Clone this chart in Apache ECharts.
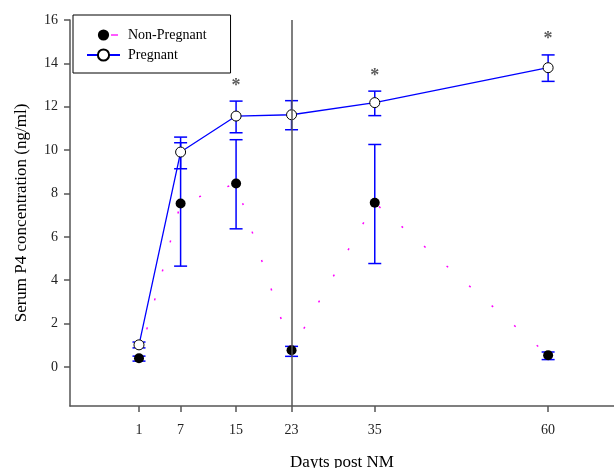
<!DOCTYPE html>
<html lang="en">

<head>
    <meta charset="UTF-8">
    <title>Serum P4</title>
    <script src="https://cdn.jsdelivr.net/npm/echarts@6.0.0/dist/echarts.min.js"></script>
    <style>
        body { margin: 0; background: #fff; }
    </style>
</head>

<body>
    <div id="container" style="width: 614px; height: 468px"></div>
    <script>
        // days post NM
        var days = [1, 7, 15, 23, 35, 60];
        // non-pregnant: mean, lower and upper error
        var npMean = [0.4, 7.54, 8.46, 0.77, 7.57, 0.54];
        var npLow = [0.27, 4.65, 6.37, 0.49, 4.77, 0.34];
        var npHigh = [0.5, 10.34, 10.48, 0.95, 10.26, 0.69];
        // pregnant
        var pMean = [1.02, 9.91, 11.57, 11.63, 12.19, 13.8];
        var pLow = [0.88, 9.14, 10.8, 10.94, 11.59, 13.17];
        var pHigh = [1.15, 10.6, 12.26, 12.28, 12.72, 14.39];
        // significance marks
        var starDays = [15, 35, 60];
        var starY = [12.95, 13.4, 15.1];
        var yTicks = [0, 2, 4, 6, 8, 10, 12, 14, 16];

        var font = 'Liberation Serif';

        var npPoints = [], pPoints = [], bars = [], stars = [];
        for (let i = 0; i < days.length; i++) {
            npPoints.push([days[i], npMean[i]]);
            pPoints.push([days[i], pMean[i]]);
            bars.push([days[i], npLow[i], npHigh[i]]);
            bars.push([days[i], pLow[i], pHigh[i]]);
        }
        for (let i = 0; i < starDays.length; i++) {
            stars.push([starDays[i], starY[i]]);
        }

        function errorBar(params, api) {
            var x = api.value(0);
            var lo = api.coord([x, api.value(1)]);
            var hi = api.coord([x, api.value(2)]);
            var w = 6.5;
            var style = { stroke: '#0000ff', lineWidth: 1.5 };
            return {
                type: 'group',
                children: [
                    { type: 'line', shape: { x1: lo[0], y1: lo[1], x2: hi[0], y2: hi[1] }, style: style },
                    { type: 'line', shape: { x1: lo[0] - w, y1: lo[1], x2: lo[0] + w, y2: lo[1] }, style: style },
                    { type: 'line', shape: { x1: hi[0] - w, y1: hi[1], x2: hi[0] + w, y2: hi[1] }, style: style }
                ]
            };
        }

        var chart = echarts.init(document.getElementById('container'));
        chart.setOption({
            animation: false,
            textStyle: { fontFamily: font },
            grid: { left: 70, top: 20, right: 0, bottom: 62, containLabel: false, outerBoundsMode: 'none' },
            legend: {
                left: 73, top: 15,
                orient: 'vertical',
                padding: [13, 24, 11, 13],
                itemGap: 6,
                itemWidth: 33, itemHeight: 14,
                borderColor: '#000', borderWidth: 1,
                textStyle: { fontFamily: font, fontSize: 14, color: '#000', padding: [0, 0, 0, 3] },
                data: [
                    { name: 'Non-Pregnant', lineStyle: { type: [7, 40], dashOffset: -24, width: 1.3 } },
                    { name: 'Pregnant' }
                ]
            },
            xAxis: {
                type: 'value',
                min: -8.95, max: 69.5,
                name: 'Dayts post NM',
                nameLocation: 'middle',
                nameGap: 48,
                nameTextStyle: { fontFamily: font, fontSize: 17, color: '#000' },
                splitLine: { show: false },
                axisLine: { onZero: false, lineStyle: { color: '#555', width: 1.5 } },
                axisTick: { customValues: days, length: 6, lineStyle: { color: '#555', width: 1.5 } },
                axisLabel: { customValues: days, fontFamily: font, fontSize: 14, color: '#222', margin: 17 }
            },
            yAxis: {
                type: 'value',
                min: -1.8, max: 16,
                name: 'Serum P4 concentration (ng/ml)',
                nameLocation: 'middle',
                nameGap: 40,
                nameTextStyle: { fontFamily: font, fontSize: 17, color: '#000' },
                splitLine: { show: false },
                axisLine: { show: true, onZero: false, lineStyle: { color: '#555', width: 1.5 } },
                axisTick: { show: true, customValues: yTicks, length: 6, lineStyle: { color: '#555', width: 1.5 } },
                axisLabel: { customValues: yTicks, fontFamily: font, fontSize: 14, color: '#222', margin: 12 }
            },
            series: [
                {
                    type: 'custom',
                    renderItem: errorBar,
                    data: bars,
                    z: 1,
                    silent: true,
                    markLine: {
                        silent: true,
                        symbol: 'none',
                        label: { show: false },
                        lineStyle: { color: '#555', width: 1.5, type: 'solid' },
                        data: [{ xAxis: 23 }]
                    }
                },
                {
                    name: 'Non-Pregnant',
                    type: 'line',
                    data: npPoints,
                    symbol: 'circle',
                    symbolSize: 10,
                    itemStyle: { color: '#000' },
                    lineStyle: { color: '#ff00ff', width: 1.5, type: [2, 28] },
                    z: 3
                },
                {
                    name: 'Pregnant',
                    type: 'line',
                    data: pPoints,
                    symbol: 'circle',
                    symbolSize: 10,
                    itemStyle: { color: '#fff', borderColor: '#000', borderWidth: 1 },
                    lineStyle: { color: '#0000ff', width: 1.3 },
                    z: 4
                },
                {
                    type: 'scatter',
                    data: stars,
                    symbolSize: 1,
                    itemStyle: { color: 'rgba(0,0,0,0)' },
                    label: { show: true, position: 'inside', formatter: '*', fontFamily: font, fontSize: 18, fontWeight: 'bold', color: '#333' },
                    z: 5
                }
            ]
        });
    </script>
</body>

</html>
